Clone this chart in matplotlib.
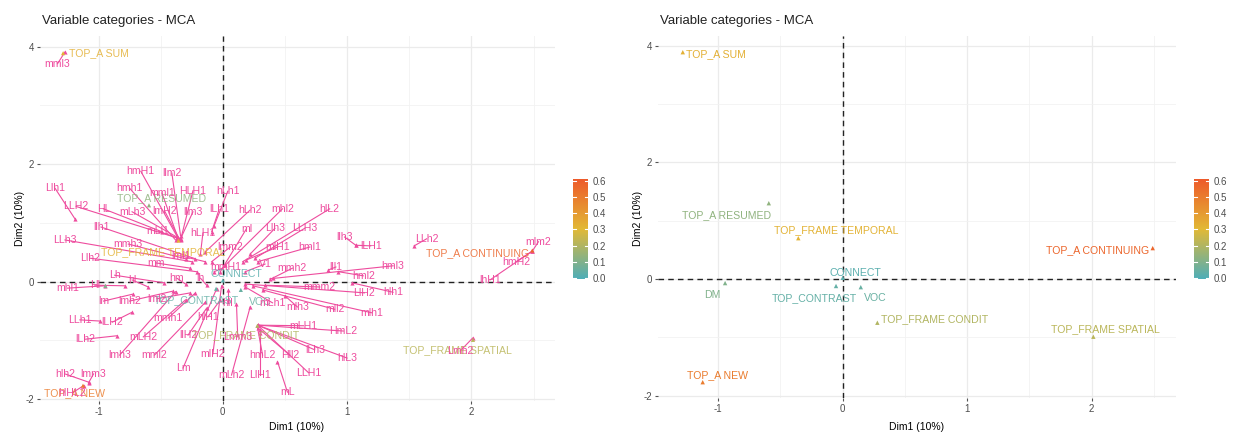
import numpy as np
import matplotlib
matplotlib.use("Agg")
import matplotlib.pyplot as plt
from matplotlib.colors import LinearSegmentedColormap

plt.rcParams["font.family"] = ["Liberation Sans", "DejaVu Sans"]
plt.rcParams["axes.unicode_minus"] = False

# ---- active categories (coloured by cos2) ----
cat_names = ["TOP_A SUM", "TOP_A RESUMED", "TOP_FRAME TEMPORAL", "CONNECT", "DM",
             "TOP_CONTRAST", "VOC", "TOP_FRAME CONDIT", "TOP_A NEW",
             "TOP_A CONTINUING", "TOP_FRAME SPATIAL"]
cat_x = [-1.285, -0.594, -0.357, 0.0, -0.945, -0.054, 0.145, 0.278, -1.125, 2.49, 2.013]
cat_y = [3.89, 1.30, 0.70, 0.02, -0.07, -0.12, -0.14, -0.75, -1.77, 0.53, -0.99]
cat_cos2 = [0.33, 0.13, 0.32, 0.02, 0.10, 0.04, 0.05, 0.20, 0.50, 0.57, 0.22]

# ---- supplementary categories (pink) ----
sup_names = ["mml3", "Llh1", "LLH2", "hmH1", "llm2", "hmh1", "mml1", "HLH1", "mLh3", "lmH2",
             "llm3", "HL", "hLh1", "lLh1", "hLh2", "mhl2", "hlL2", "ml", "Llh3", "LLH3",
             "mlH1", "hml1", "lmm2", "mmH1", "V1", "mmh2", "lll1", "hml3", "hml2", "llh3",
             "lLH1", "LLh2", "mlm2", "hmH2", "lhH1", "Lmh2", "mmm2", "LlH2", "hlh1", "mlh3",
             "mll2", "mlh1", "mLH1", "HmL2", "lLh3", "hlL3", "LLH1", "Hll2", "hmL2", "mL",
             "LlH1", "mLh2", "Lm", "mlH2", "Lmm3", "mml2", "llH2", "hlH1", "mmh1", "mLH2",
             "lmh3", "LLh1", "lLH2", "lLh2", "lm", "lmh2", "lml2", "hlh2", "lmm3", "hlHL2",
             "mhl1", "Hl", "hl", "Lh", "hm", "lh", "mm", "Llh2", "LLh3", "llh1",
             "mmh3", "lml1", "hLH1", "mLl1", "mLh1", "hll"]
sup_x = [-1.27, -1.19, -0.36, -0.36, -0.34, -0.38, -0.36, -0.34, -0.37, -0.35,
         -0.34, -0.49, -0.07, -0.09, -0.14, 0.02, 0.16, -0.02, 0.22, 0.26,
         0.19, 0.28, -0.09, -0.07, 0.18, 0.40, 0.85, 0.38, 0.93, 1.07,
         1.07, 1.54, 2.49, 2.49, 2.49, 2.01, 0.34, 0.18, 1.04, 0.50,
         0.32, 0.24, 0.28, 0.28, 0.28, 0.28, 0.28, 0.30, 0.28, 0.44,
         0.30, 0.22, -0.05, -0.01, 0.11, -0.14, -0.13, -0.02, -0.22, -0.30,
         -0.38, -0.99, -0.73, -0.85, -0.72, -0.40, -0.26, -1.08, -1.08, -1.12,
         -0.95, -0.79, -0.60, -0.47, -0.30, -0.13, -0.26, -0.21, -0.25, -0.22,
         -0.30, -0.14, -0.18, -0.36, 0.18, 0.04]
sup_y = [3.91, 1.07, 0.74, 0.74, 0.78, 0.71, 0.74, 0.71, 0.76, 0.73,
         0.73, 0.85, 0.95, 0.85, 0.51, 0.28, 0.34, 0.17, 0.47, 0.40,
         0.37, 0.34, 0.34, 0.17, 0.17, 0.06, 0.20, 0.05, 0.17, 0.62,
         0.62, 0.61, 0.52, 0.52, 0.52, -0.96, -0.06, -0.04, -0.02, -0.24,
         -0.14, -0.07, -0.74, -0.74, -0.74, -0.74, -0.74, -0.82, -0.79, -1.36,
         -0.87, -0.43, -0.12, -0.07, -0.38, -0.35, -0.45, -0.31, -0.19, -0.31,
         -0.17, -0.67, -0.52, -0.92, -0.21, -0.16, -0.19, -1.71, -1.72, -1.77,
         -0.07, -0.07, -0.09, -0.02, -0.04, -0.06, 0.23, 0.17, 0.34, 0.39,
         0.39, 0.34, 0.47, 0.74, -0.09, -0.14]

# ---- label placement (repelled positions, layout only) ----
sup_label_x = [-1.33, -1.35, -1.18, -0.66, -0.41, -0.75, -0.49, -0.24, -0.73, -0.47,
               -0.24, -0.96, 0.04, -0.03, 0.22, 0.48, 0.86, 0.19, 0.42, 0.66,
               0.44, 0.70, 0.06, 0.02, 0.34, 0.56, 0.91, 1.37, 1.13, 0.98,
               1.19, 1.64, 2.54, 2.36, 2.15, 1.91, 0.78, 1.14, 1.37, 0.60,
               0.90, 1.20, 0.65, 0.97, 0.74, 1.00, 0.69, 0.54, 0.32, 0.52,
               0.30, 0.07, -0.32, -0.08, 0.12, -0.55, -0.28, -0.12, -0.44, -0.64,
               -0.83, -1.15, -0.89, -1.11, -0.96, -0.75, -0.53, -1.27, -1.04, -1.21,
               -1.25, -1.03, -0.73, -0.87, -0.37, -0.18, -0.54, -1.07, -1.27, -0.98,
               -0.76, -0.34, -0.16, -0.52, 0.40, 0.04]
sup_label_y = [3.71, 1.59, 1.28, 1.88, 1.85, 1.59, 1.51, 1.55, 1.19, 1.21,
               1.19, 1.24, 1.54, 1.23, 1.22, 1.24, 1.24, 0.90, 0.91, 0.91,
               0.59, 0.59, 0.59, 0.25, 0.30, 0.23, 0.25, 0.27, 0.10, 0.76,
               0.61, 0.73, 0.68, 0.34, 0.03, -1.18, -0.09, -0.19, -0.18, -0.43,
               -0.47, -0.53, -0.75, -0.84, -1.16, -1.30, -1.55, -1.25, -1.25, -1.88,
               -1.59, -1.59, -1.47, -1.23, -0.94, -1.25, -0.91, -0.60, -0.62, -0.94,
               -1.25, -0.65, -0.69, -0.98, -0.33, -0.33, -0.29, -1.57, -1.57, -1.89,
               -0.11, -0.06, 0.03, 0.11, 0.06, 0.06, 0.32, 0.40, 0.71, 0.93,
               0.64, 0.44, 0.83, 0.86, -0.36, -0.36]
left_cat_label_x = [-1.24, -0.49, -0.48, 0.11, None, -0.21, 0.30, 0.18, -1.19, 2.05, 1.89]
left_cat_label_y = [3.89, 1.43, 0.51, 0.13, None, -0.31, -0.35, -0.91, -1.89, 0.49, -1.16]
right_cat_label_x = [-1.26, -0.93, -0.05, 0.10, -1.05, -0.23, 0.26, 0.31, -1.01, 2.05, 2.11]
right_cat_label_y = [3.86, 1.10, 0.84, 0.11, -0.27, -0.32, -0.33, -0.69, -1.65, 0.50, -0.86]

W, H = 1234, 434
fig = plt.figure(figsize=(W / 100, H / 100), dpi=100)

cmap = LinearSegmentedColormap.from_list("fx", ["#4FAEB8", "#E2B936", "#EE5A2A"])
vmin, vmax = -0.005, 0.61
pink = "#EE4C9E"
fs = 7.6


def px_axes(l, t, r, b):
    return fig.add_axes([l / W, 1 - b / H, (r - l) / W, (b - t) / H])


def style_axes(ax, xlim, ylim):
    ax.set_xlim(*xlim)
    ax.set_ylim(*ylim)
    for s in ax.spines.values():
        s.set_visible(False)
    ax.set_xticks([-1, 0, 1, 2])
    ax.set_yticks([-2, 0, 2, 4])
    ax.set_xticks([-0.5, 0.5, 1.5, 2.5], minor=True)
    ax.set_yticks([-1, 1, 3], minor=True)
    ax.grid(True, which="major", color="#EBEBEB", lw=0.9)
    ax.grid(True, which="minor", color="#F2F2F2", lw=0.6)
    ax.tick_params(which="major", length=2.5, width=0.8, color="#555555",
                   labelsize=7, labelcolor="#4D4D4D", pad=2)
    ax.tick_params(which="minor", length=0)
    ax.axhline(0, color="#222222", lw=1.0, ls=(0, (4, 3)), zorder=1)
    ax.axvline(0, color="#222222", lw=1.0, ls=(0, (4, 3)), zorder=1)
    ax.set_axisbelow(True)


def colorbar(l, t):
    cax = px_axes(l, t, l + 15, t + 100)
    grad = np.linspace(vmin, vmax, 256).reshape(-1, 1)
    cax.imshow(grad, aspect="auto", cmap=cmap, origin="lower",
               extent=[0, 1, vmin, vmax], vmin=vmin, vmax=vmax)
    cax.set_xticks([])
    ticks = [0.0, 0.1, 0.2, 0.3, 0.4, 0.5, 0.6]
    cax.set_yticks(ticks)
    cax.set_yticklabels([f"{t:.1f}" for t in ticks])
    cax.yaxis.tick_right()
    cax.tick_params(axis="y", length=0, labelsize=7, labelcolor="#4D4D4D", pad=3)
    for t in ticks:
        cax.plot([0, 0.2], [t, t], color="white", lw=0.8)
        cax.plot([0.8, 1], [t, t], color="white", lw=0.8)
    cax.set_xlim(0, 1)
    cax.set_ylim(vmin, vmax)
    for s in cax.spines.values():
        s.set_visible(False)
    fig.text((l - 1) / W, 1 - (t - 11) / H, "cos2", fontsize=8, color="#222222",
             va="center", ha="left")


# ---------------- left panel ----------------
axL = px_axes(40, 36, 555, 401)
style_axes(axL, (-1.471, 2.673), (-2.031, 4.182))

for i, name in enumerate(sup_names):
    axL.plot([sup_label_x[i], sup_x[i]], [sup_label_y[i], sup_y[i]],
             color=pink, lw=0.8, zorder=3)
axL.scatter(sup_x, sup_y, marker="^", s=9, color=pink, zorder=4, lw=0)

axL.scatter(cat_x, cat_y, marker="^", s=9, c=cat_cos2, cmap=cmap,
            vmin=vmin, vmax=vmax, zorder=4, lw=0)
for i, name in enumerate(cat_names):
    if left_cat_label_x[i] is None:
        continue
    ha = "left" if name == "TOP_A SUM" else "center"
    axL.text(left_cat_label_x[i], left_cat_label_y[i], name, fontsize=fs, ha=ha,
             va="center", color=cmap((cat_cos2[i] - vmin) / (vmax - vmin)),
             alpha=0.85, zorder=5)
for i, name in enumerate(sup_names):
    axL.text(sup_label_x[i], sup_label_y[i], name, fontsize=fs, ha="center",
             va="center", color=pink, zorder=6)

fig.text(42 / W, 1 - 21 / H, "Variable categories - MCA", fontsize=9.5,
         color="#222222", va="center", ha="left")
fig.text(297 / W, 1 - 427 / H, "Dim1 (10%)", fontsize=7.5, ha="center", va="center")
fig.text(20 / W, 1 - 218 / H, "Dim2 (10%)", fontsize=7.5, ha="center", va="center",
         rotation=90)
colorbar(573, 179)

# ---------------- right panel ----------------
axR = px_axes(658, 36, 1176, 398)
style_axes(axR, (-1.484, 2.677), (-2.041, 4.168))

axR.scatter(cat_x, cat_y, marker="^", s=10, c=cat_cos2, cmap=cmap,
            vmin=vmin, vmax=vmax, zorder=4, lw=0)
for i, name in enumerate(cat_names):
    ha = "left" if name in ("TOP_A SUM", "TOP_FRAME CONDIT") else "center"
    axR.text(right_cat_label_x[i], right_cat_label_y[i], name, fontsize=fs, ha=ha,
             va="center", color=cmap((cat_cos2[i] - vmin) / (vmax - vmin)), zorder=5)

fig.text(660 / W, 1 - 21 / H, "Variable categories - MCA", fontsize=9.5,
         color="#222222", va="center", ha="left")
fig.text(917 / W, 1 - 427 / H, "Dim1 (10%)", fontsize=7.5, ha="center", va="center")
fig.text(638 / W, 1 - 218 / H, "Dim2 (10%)", fontsize=7.5, ha="center", va="center",
         rotation=90)
colorbar(1194, 179)

fig.savefig("out.png", dpi=100)
